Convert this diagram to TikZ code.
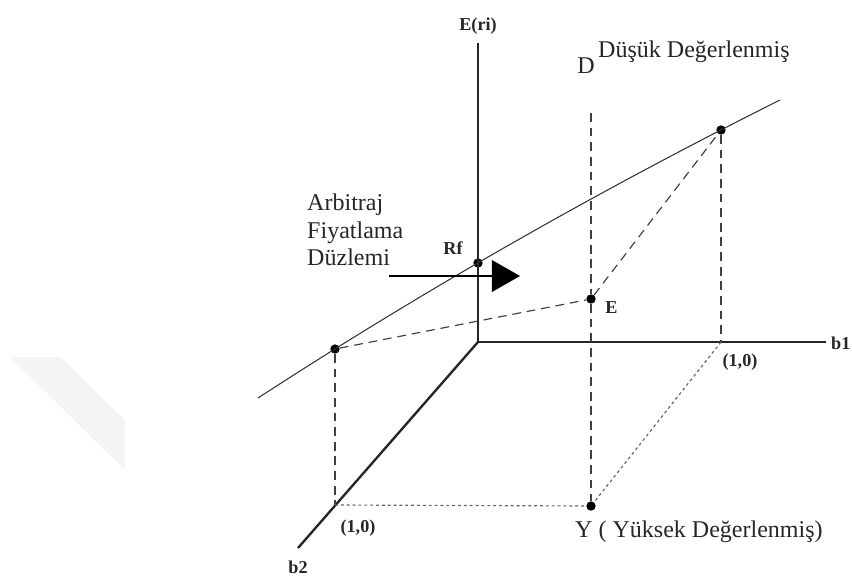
\documentclass[tikz,border=0pt]{standalone}
\usepackage{fontspec}
\setmainfont{Liberation Serif}
\usetikzlibrary{arrows.meta,calc,positioning}

\begin{document}
\begin{tikzpicture}[
    x=0.03cm, y=-0.03cm,
    axis/.style={line width=2pt, draw=black!85},
    plane/.style={line width=0.9pt, draw=black!80},
    guide/.style={dash pattern=on 7.5pt off 5pt, line width=1pt, draw=black!75},
    dotguide/.style={dash pattern=on 2.5pt off 2.5pt, line width=1pt, draw=black!60},
    dot/.style={circle, fill=black, inner sep=0pt, minimum size=8pt},
    lbl/.style={font=\bfseries\fontsize{15.5}{17}\selectfont, text=black!85, inner sep=1pt},
    txt/.style={font=\fontsize{20.5}{23.5}\selectfont, text=black!85, inner sep=0pt},
    arr/.style={-{Triangle[length=24pt,width=27pt]}, line width=1.4pt, draw=black}
  ]
  \useasboundingbox (0,0) rectangle (852,582);

  % faint band on the left
  \fill[gray!9] (10,357) -- (60,357) -- (125,420) -- (125,470) -- cycle;

  % Key coordinates
  \coordinate (O) at (478,342);
  \coordinate (Etop) at (478,43);
  \coordinate (B1end) at (826,342);
  \coordinate (B2end) at (298,548);
  \coordinate (B1one) at (721,342);
  \coordinate (B2one) at (335,505);
  \coordinate (Dtop) at (591,113);
  \coordinate (P0) at (258,398);
  \coordinate (C1) at (422.5,291.1);
  \coordinate (C2) at (596.5,191.8);
  \coordinate (P3) at (780,100);
  \coordinate (ArrL) at (389,276);
  \coordinate (ArrR) at (520,276);

  % Points
  \node[dot] (L)  at (335,349) {};
  \node[dot] (Rf) at (478,263) {};
  \node[dot] (R)  at (721,130) {};
  \node[dot] (E)  at (591,299) {};
  \node[dot] (Y)  at (591,506) {};

  % Axes
  \draw[axis] (O) -- (Etop);
  \draw[axis] (O) -- (B1end);
  \draw[axis] (O) -- (B2end);

  % Pricing plane
  \draw[plane] (P0) .. controls (C1) and (C2) .. (P3);

  % Dashed guides
  \draw[guide] (L) -- (E);
  \draw[guide] (E) -- (R);
  \draw[guide] (R) -- (B1one);
  \draw[guide] (L) -- (B2one);
  \draw[guide] (Dtop) -- (E);
  \draw[guide] (E) -- (Y);

  % Dotted guides
  \draw[dotguide] (B2one) -- (Y);
  \draw[dotguide] (B1one) -- (Y);

  % Arrow onto the plane
  \draw[arr] (ArrL) -- (ArrR);

  % Labels
  \node[lbl, above=6pt of Etop] (Elbl) {E(ri)};
  \node[lbl, above left=3pt and 9pt of Rf] (Rflbl) {Rf};
  \node[lbl, anchor=west] (Ename) at ($(E)+(13,9)$) {E};
  \node[lbl, anchor=west, inner sep=0pt] (b1lbl) at ($(B1end)+(5,1)$) {b1};
  \node[lbl] (b1one) at ($(B1one)+(19,20)$) {(1,0)};
  \node[lbl] (b2lbl) at ($(B2end)+(0,19)$) {b2};
  \node[lbl] (b2one) at ($(B2one)+(23,23)$) {(1,0)};

  \node[txt, anchor=base] (Dlbl) at (586,73) {D};
  \node[txt, anchor=base west] (Dtxt) at (598,57) {Düşük Değerlenmiş};
  \node[txt, anchor=north west, align=left] (APT) at (307,194) {Arbitraj\\Fiyatlama\\Düzlemi};
  \node[txt, anchor=base west] (Ylbl) at ($(Y)+(-16,31)$) {Y ( Yüksek Değerlenmiş)};

\end{tikzpicture}
\end{document}
